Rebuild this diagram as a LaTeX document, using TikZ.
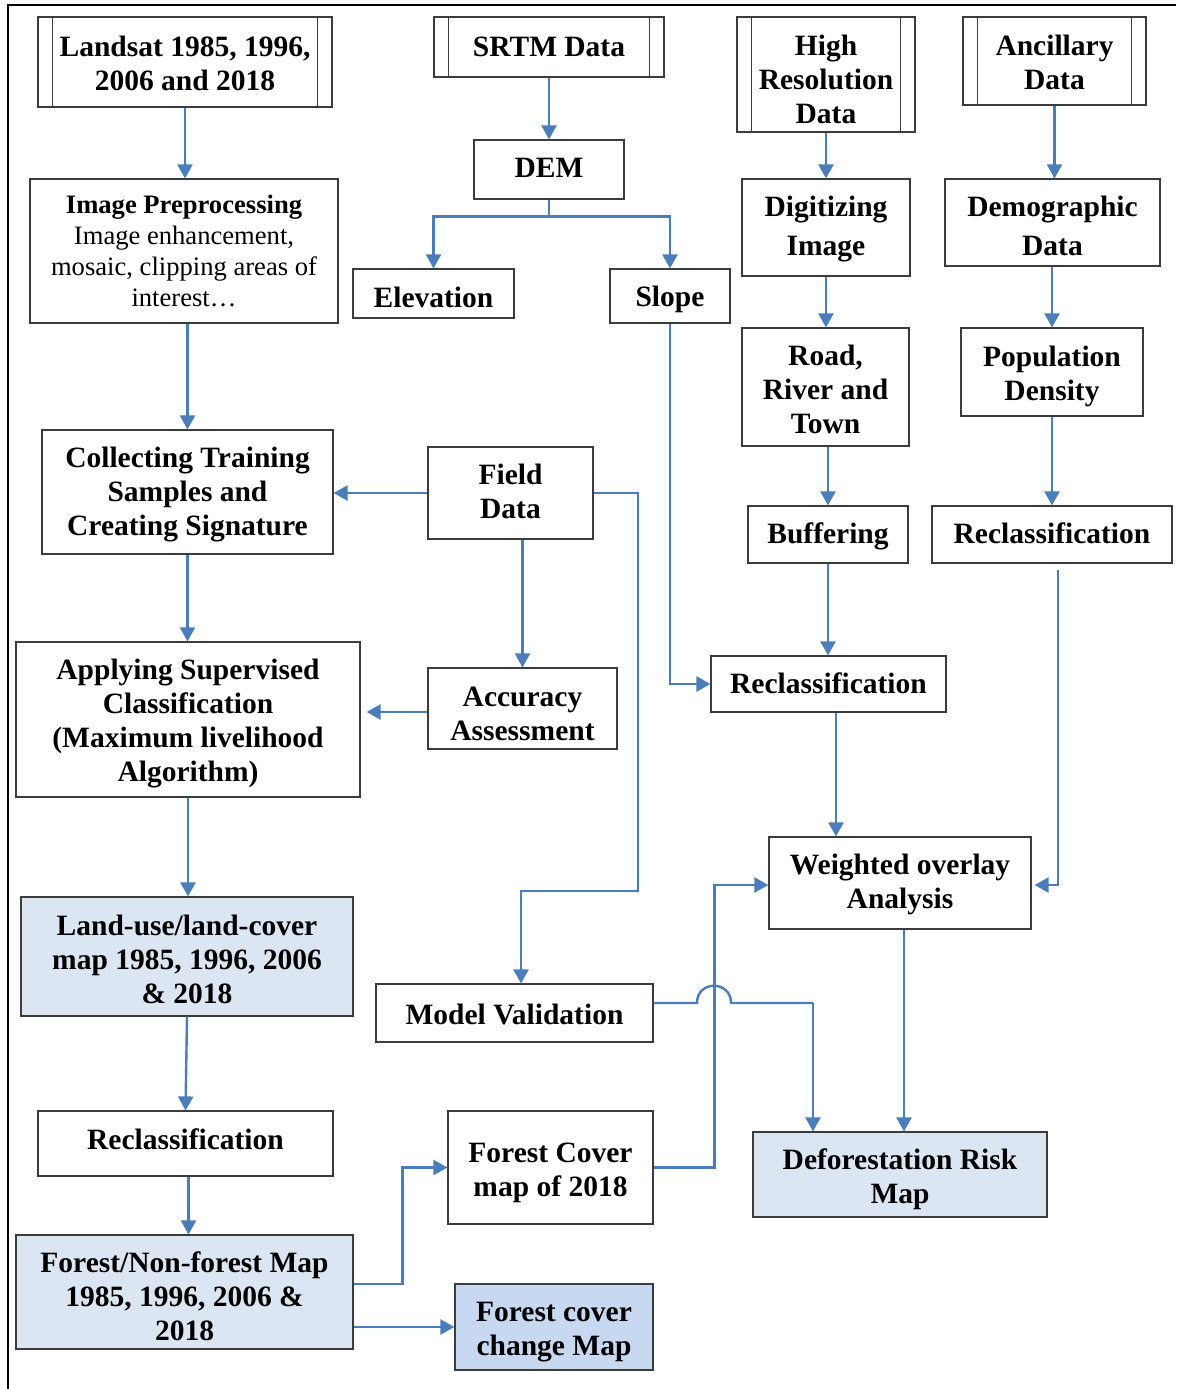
\documentclass[tikz,border=0pt]{standalone}
\usepackage{fontspec}
\setmainfont{Liberation Serif}
\usetikzlibrary{arrows.meta,calc}
\definecolor{arrblue}{HTML}{4A7EBB}
\definecolor{boxline}{HTML}{3C3C3C}
\definecolor{lightfill}{HTML}{DCE6F2}
\definecolor{midfill}{HTML}{C6D9F1}
\tikzset{
  box/.style={draw=boxline,line width=1.2pt,inner sep=0pt},
  boxtext/.style={inner sep=0pt,align=center,font=\fontsize{29.5}{34}\selectfont\bfseries},
  arr/.style={draw=arrblue,line width=2.4pt,-{Triangle[length=14pt,width=15pt]}},
  conn/.style={draw=arrblue,line width=2.4pt},
}
% \bx{name}{cx}{cy}{w}{h}{text y}{box options}{text}
\newcommand{\bx}[8]{%
  \node[box,minimum width=#4pt,minimum height=#5pt,#7] (#1) at (#2,#3) {};
  \node[boxtext] (#1-t) at (#2,#6) {#8};}
\newcommand{\bars}[1]{%
  \draw[boxline,line width=1.2pt] ([xshift=15pt]#1.north west) -- ([xshift=15pt]#1.south west);
  \draw[boxline,line width=1.2pt] ([xshift=-15pt]#1.north east) -- ([xshift=-15pt]#1.south east);}
\begin{document}
\begin{tikzpicture}[x=1pt,y=-1pt]
\useasboundingbox (0,0) rectangle (1176,1389);
\fill[white] (0,0) rectangle (1176,1389);
\draw[black,line width=2pt] (8,1389) -- (8,5) -- (1176,5);

\bx{landsat}{185}{62}{294}{90}{63.5}{}{Landsat 1985, 1996,\\2006 and 2018}
\bars{landsat}
\bx{srtm}{549}{47}{230}{60}{47}{}{SRTM Data}
\bars{srtm}
\bx{hires}{826}{74.5}{178}{115}{79.5}{}{High\\Resolution\\Data}
\bars{hires}
\bx{ancil}{1054.5}{61}{183}{88}{62.5}{}{Ancillary\\Data}
\bars{ancil}

\bx{dem}{549}{169.5}{150}{59}{167.5}{}{DEM}
\node[box,minimum width=308pt,minimum height=144pt] (imgpre) at (184,251) {};
\node[boxtext,font=\fontsize{26.6}{31}\selectfont] (imgpre-t) at (184,251)
  {\textbf{Image Preprocessing}\\Image enhancement,\\mosaic, clipping areas of\\interest…};
\bx{elev}{433.5}{293.5}{161}{49}{297.5}{}{Elevation}
\bx{slope}{670}{296}{120}{54}{299}{}{Slope}
\bx{dig}{826}{227.5}{168}{97}{229}{}{Digitizing\\[5pt]Image}
\bx{demog}{1052.5}{222.5}{215}{87}{226}{}{Demographic\\[5pt]Data}
\bx{road}{825.5}{387}{167}{118}{389.5}{}{Road,\\River and\\Town}
\bx{pop}{1052}{372}{182}{88}{376}{}{Population\\Density}
\bx{collect}{187.5}{492}{291}{124}{494.5}{}{Collecting Training\\Samples and\\Creating Signature}
\bx{field}{510.5}{493}{165}{92}{491.5}{}{Field\\Data}
\bx{buff}{828}{534.5}{160}{57}{536.5}{}{Buffering}
\bx{reclR}{1052}{534.5}{240}{57}{533.5}{}{Reclassification}
\bx{apply}{188}{719.5}{344}{155}{724}{}{Applying Supervised\\Classification\\(Maximum livelihood\\Algorithm)}
\bx{acc}{522.5}{708.5}{189}{81}{713.5}{}{Accuracy\\Assessment}
\bx{reclM}{828.5}{684}{235}{56}{683}{}{Reclassification}
\bx{weighted}{900}{883}{262}{92}{884}{}{Weighted overlay\\Analysis}
\bx{landuse}{187}{956.5}{332}{119}{959}{fill=lightfill}{Land-use/land-cover\\map 1985, 1996, 2006\\\& 2018}
\bx{model}{514.5}{1013}{277}{58}{1014}{}{Model Validation}
\bx{reclL}{185.5}{1143.5}{295}{65}{1139.5}{}{Reclassification}
\bx{fc2018}{550.5}{1167.5}{205}{113}{1173}{}{Forest Cover\\map of 2018}
\bx{defor}{900}{1174.5}{294}{85}{1179.5}{fill=lightfill}{Deforestation Risk\\Map}
\bx{fnf}{184.5}{1292}{337}{114}{1296}{fill=lightfill}{Forest/Non-forest Map\\1985, 1996, 2006 \&\\2018}
\bx{change}{554}{1327}{198}{86}{1332}{fill=midfill}{Forest cover\\change Map}

% connectors
\draw[arr] (landsat.south) -- (landsat.south |- imgpre.north);
\draw[arr] (srtm.south) -- (srtm.south |- dem.north);
\draw[arr] (dem.south) -- ++(0,17) -| (elev.north);
\draw[arr] (dem.south) -- ++(0,17) -| (slope.north);
\draw[arr] (hires.south) -- (hires.south |- dig.north);
\draw[arr] (ancil.south) -- (ancil.south |- demog.north);
\draw[arr] (dig.south) -- (dig.south |- road.north);
\draw[arr] (pop.north |- demog.south) -- (pop.north);
\draw[arr] (buff.north |- road.south) -- (buff.north);
\draw[arr] (pop.south) -- (pop.south |- reclR.north);
\draw[arr] (collect.north |- imgpre.south) -- (collect.north);
\draw[arr] (field.west) -- (field.west -| collect.east);
\draw[arr] (acc.north |- field.south) -- (acc.north);
\coordinate (fm1) at (638,891);
\coordinate (fm2) at (521,891);
\draw[arr] (field.east) -| (fm1) -- (fm2) -- (fm2 |- model.north);
\draw[arr] (slope.south) |- (reclM.west);
\draw[arr] (buff.south) -- (buff.south |- reclM.north);
\draw[arr] (collect.south) -- (collect.south |- apply.north);
\draw[arr,shorten >=6pt] ([yshift=-3.5pt]acc.west) -- ([yshift=-3.5pt]acc.west -| apply.east);
\draw[arr] ([xshift=7.5pt]reclM.south) -- ([xshift=7.5pt]reclM.south |- weighted.north);
\coordinate (rr) at (1058,570);
\draw[arr,shorten >=3pt] (rr) |- ([yshift=-2pt]weighted.east);
\draw[arr] (apply.south) -- (apply.south |- landuse.north);
\draw[arr] (landuse.south) -- (reclL.north);
\draw[arr] ([xshift=3pt]reclL.south) -- ([xshift=3pt]reclL.south |- fnf.north);
\draw[arr] ([yshift=8pt]fnf.east) -- ++(49,0) |- (fc2018.west);
\draw[arr] (change.west -| fnf.east) -- (change.west);
\draw[arr] (fc2018.east) -- ++(61,0) |- ([yshift=-2pt]weighted.west);
\coordinate (j1) at (697,1003);
\coordinate (j2) at (731,1003);
\coordinate (j3) at (813,1003);
\draw[conn] ([yshift=10pt]model.east) -- (j1) .. controls ($(j1)+(0,-23)$) and ($(j2)+(0,-23)$) .. (j2) -- (j3);
\draw[arr] (j3) -- (j3 |- defor.north);
\draw[arr] ([xshift=4pt]weighted.south) -- ([xshift=4pt]weighted.south |- defor.north);
\end{tikzpicture}
\end{document}
